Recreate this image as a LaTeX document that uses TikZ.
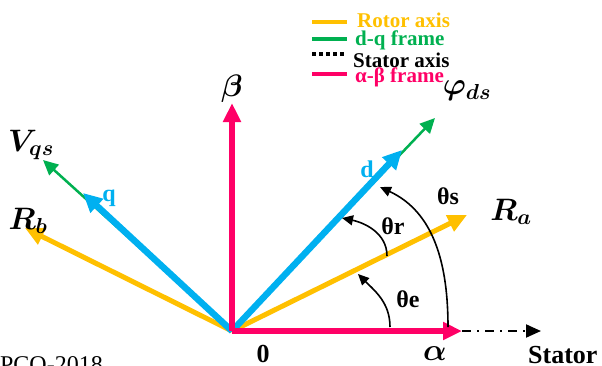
\RequirePackage{fix-cm}
\documentclass[tikz,border=0pt]{standalone}
\usepackage{fontspec}
\setmainfont{Liberation Serif}
\usepackage{bm}
\usetikzlibrary{arrows.meta}
\definecolor{rotorc}{HTML}{FFC000}
\definecolor{dqc}{HTML}{00B050}
\definecolor{bluc}{HTML}{00B0F0}
\definecolor{pnkc}{HTML}{FF0066}
\begin{document}
\begin{tikzpicture}[x=1pt,y=-1pt,
  bluax/.style={bluc,line width=6.5pt,-{Triangle[length=19pt,width=18pt]}},
  grnax/.style={dqc,line width=2.5pt,-{Triangle[length=15pt,width=14pt]}},
  yelax/.style={rotorc,line width=5pt,-{Triangle[length=19pt,width=17pt]}},
  pnkax/.style={pnkc,line width=6pt,-{Triangle[length=19pt,width=17pt]}},
  statax/.style={black,line width=2pt,dash pattern=on 9pt off 6pt on 2pt off 6pt,-{Triangle[length=15pt,width=13pt]}},
  angarr/.style={black,line width=1.6pt,-{Triangle[length=11pt,width=10pt]}},
  lbl/.style={inner sep=0pt,font=\bfseries\fontsize{24}{28}\selectfont},
  biglbl/.style={inner sep=0pt,font=\bfseries\fontsize{26}{30}\selectfont},
  mlbl/.style={inner sep=0pt,font=\fontsize{31}{36}\selectfont},
  legtxt/.style={inner sep=0pt,anchor=west,font=\bfseries\fontsize{21}{24}\selectfont},
  legln/.style={line width=4pt}
]
\useasboundingbox (0,0) rectangle (602,365);
% points
\coordinate (O) at (232,331);
\coordinate (Al) at (462,331);
\coordinate (St) at (541,331);
\coordinate (Be) at (232,103);
\coordinate (Dq) at (402,150);
\coordinate (Dg) at (435,118);
\coordinate (Qb) at (83,193);
\coordinate (Qg) at (43,160);
\coordinate (Ra) at (467,215);
\coordinate (Rb) at (25,228);
% axes
\draw[yelax] (O) -- (Ra);
\draw[yelax] (O) -- (Rb);
\draw[grnax] (O) -- (Dg);
\draw[grnax] (O) -- (Qg);
\draw[bluax] (O) -- (Dq);
\draw[bluax] (O) -- (Qb);
\draw[statax] (Al) -- (St);
\draw[pnkax] (O) -- (Be);
\draw[pnkax] (O) -- (Al);
% angle arcs
\coordinate (e1) at (390,327); \coordinate (e2) at (358,274);
\coordinate (r1) at (387,256); \coordinate (r2) at (342,218);
\coordinate (s1) at (448,327); \coordinate (s2) at (380,187);
\draw[angarr] (e1) to[out=90,in=-45] (e2);
\draw[angarr] (r1) to[out=90,in=-12] (r2);
\draw[angarr] (s1) to[out=90,in=-25] (s2);
% labels
\node[lbl,bluc] (dlab) at (367,169) {d};
\node[lbl,bluc] (qlab) at (109,198) {q};
\node[lbl] (telab) at (408,299) {θe};
\node[lbl] (trlab) at (393,226) {θr};
\node[lbl] (tslab) at (448,196) {θs};
\node[biglbl] (zlab) at (263,354) {0};
\node[biglbl,anchor=west] (stlab) at (528,355) {Stator};
\node[mlbl] (allab) at (435,354) {$\bm{\alpha}$};
\node[mlbl] (belab) at (232,89) {$\bm{\beta}$};
\node[mlbl] (phlab) at (467,91) {$\bm{\varphi_{ds}}$};
\node[mlbl] (vlab) at (31,145) {$\bm{V_{qs}}$};
\node[mlbl] (rblab) at (28,221) {$\bm{R_b}$};
\node[mlbl] (ralab) at (511,212) {$\bm{R_a}$};
\node[inner sep=0pt,anchor=base east,font=\fontsize{24}{28}\selectfont] (pco) at (103,372) {PCO-2018};
% legend
\coordinate (L1a) at (312,22); \coordinate (L1b) at (347,22);
\coordinate (L2a) at (312,39); \coordinate (L2b) at (347,39);
\coordinate (L3a) at (312,54); \coordinate (L3b) at (347,54);
\coordinate (L4a) at (312,74); \coordinate (L4b) at (347,74);
\draw[legln,rotorc] (L1a) -- (L1b);
\draw[legln,dqc] (L2a) -- (L2b);
\draw[legln,black,dash pattern=on 3.5pt off 3.5pt] (L3a) -- (L3b);
\draw[legln,pnkc] (L4a) -- (L4b);
\node[legtxt,rotorc] (t1) at (357,20) {Rotor axis};
\node[legtxt,dqc] (t2) at (355,40) {d-q frame};
\node[legtxt] (t3) at (353,60) {Stator axis};
\node[legtxt,pnkc] (t4) at (355,77) {α-β frame};
\end{tikzpicture}
\end{document}
